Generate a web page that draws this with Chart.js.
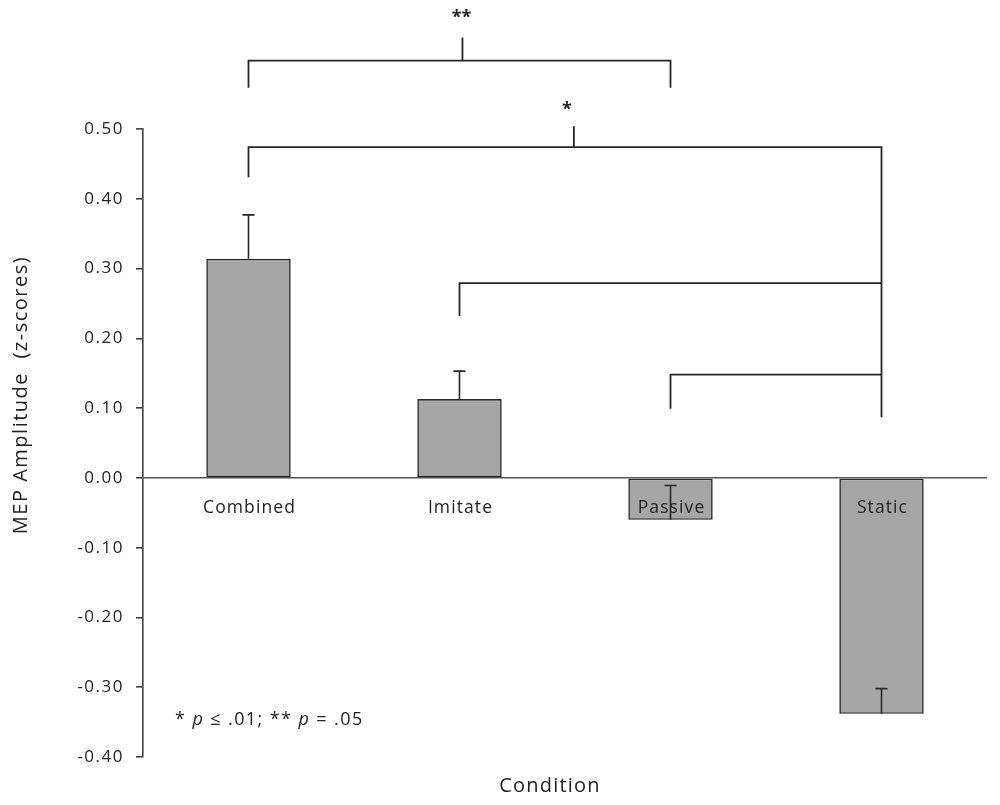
<!DOCTYPE html>
<html><head><meta charset="utf-8">
<script src="https://cdn.jsdelivr.net/npm/chart.js@4.4.0/dist/chart.umd.min.js"></script>
<style>html,body{margin:0;padding:0;background:#fff;}#wrap{width:1000px;height:805px;position:relative}</style>
</head><body><div id="wrap"><canvas id="c" width="1000" height="805"></canvas></div>
<script>
const categories = ['Combined', 'Imitate', 'Passive', 'Static'];
const meanValues = [0.314, 0.113, -0.060, -0.338];
const errorValues = [0.063, 0.040, 0.049, 0.036];
const yTickValues = [0.5, 0.4, 0.3, 0.2, 0.1, 0.0, -0.1, -0.2, -0.3, -0.4];

const bracketFrom = [0, 0, 1, 2];
const bracketTo = [2, 3, 3, 3];
const bracketLevel = [0.598, 0.474, 0.279, 0.148];
const bracketLeftEnd = [0.559, 0.431, 0.232, 0.099];
const bracketRightEnd = [0.559, 0.087, 0.279, 0.148];
const bracketTickTop = [0.631, 0.504, null, null];
const bracketTickFraction = [0.507, 0.514, null, null];
const bracketLabels = ['**', '*', '', ''];
const bracketLabelLevel = [0.663, 0.531, null, null];

const FONT = '"Open Sans", "Noto Sans", sans-serif';
const TEXT = '#222222';
const LINE = '#262626';

const overlay = {
  id: 'overlay',
  beforeDraw(chart) {
    chart.ctx.letterSpacing = '1.5px';
  },
  afterDatasetsDraw(chart) {
    const { ctx, scales: { x, y } } = chart;
    const y0 = y.getPixelForValue(0);
    ctx.save();
    // category labels under the zero line
    ctx.letterSpacing = '1.1px';
    ctx.font = '17.5px ' + FONT;
    ctx.fillStyle = TEXT;
    ctx.textAlign = 'center';
    ctx.textBaseline = 'middle';
    categories.forEach((c, i) => ctx.fillText(c, x.getPixelForValue(i) + 1, y0 + 30));
    // error bars
    ctx.strokeStyle = LINE;
    ctx.lineWidth = 1.6;
    meanValues.forEach((v, i) => {
      const cx = x.getPixelForValue(i);
      const ya = y.getPixelForValue(v);
      const yb = y.getPixelForValue(v + errorValues[i]);
      ctx.beginPath();
      ctx.moveTo(cx, ya); ctx.lineTo(cx, yb);
      ctx.moveTo(cx - 6, yb); ctx.lineTo(cx + 6, yb);
      ctx.stroke();
    });
    // significance brackets
    ctx.lineWidth = 1.8;
    bracketLevel.forEach((lv, k) => {
      const xa = x.getPixelForValue(bracketFrom[k]);
      const xb = x.getPixelForValue(bracketTo[k]);
      const yl = y.getPixelForValue(lv);
      ctx.beginPath();
      ctx.moveTo(xa, y.getPixelForValue(bracketLeftEnd[k]));
      ctx.lineTo(xa, yl);
      ctx.lineTo(xb, yl);
      ctx.lineTo(xb, y.getPixelForValue(bracketRightEnd[k]));
      if (bracketTickTop[k] !== null) {
        const xm = xa + (xb - xa) * bracketTickFraction[k];
        ctx.moveTo(xm, yl);
        ctx.lineTo(xm, y.getPixelForValue(bracketTickTop[k]));
      }
      ctx.stroke();
      if (bracketLabels[k]) {
        ctx.font = 'bold 18px ' + FONT;
        ctx.fillStyle = '#222';
        ctx.letterSpacing = '0px';
        ctx.fillText(bracketLabels[k], (xa + xb) / 2 + 2, y.getPixelForValue(bracketLabelLevel[k]) + 3);
      }
    });
    // footnote
    ctx.textAlign = 'left';
    ctx.textBaseline = 'alphabetic';
    ctx.letterSpacing = '1.4px';
    const parts = [['* ', 'normal'], ['p', 'italic'], [' \u2264 .01; ** ', 'normal'], ['p', 'italic'], [' = .05', 'normal']];
    let fx = 175;
    parts.forEach(([t, st]) => {
      ctx.font = st + ' 18px ' + FONT;
      ctx.fillStyle = TEXT;
      ctx.fillText(t, fx, 725);
      fx += ctx.measureText(t).width;
    });
    // x axis title
    ctx.font = '20px ' + FONT;
    ctx.letterSpacing = '1.2px';
    ctx.textAlign = 'center';
    ctx.textBaseline = 'middle';
    ctx.fillText('Condition', 550, 786);
    // y axis title (rotated)
    ctx.translate(21, 395);
    ctx.rotate(-Math.PI / 2);
    ctx.letterSpacing = '1.5px';
    ctx.font = '20px ' + FONT;
    ctx.fillText('MEP Amplitude  (z-scores)', 0, 0);
    ctx.restore();
  }
};

new Chart(document.getElementById('c'), {
  type: 'bar',
  data: {
    labels: categories,
    datasets: [{
      data: meanValues,
      backgroundColor: '#a6a6a6',
      borderColor: LINE,
      borderWidth: 1.6,
      borderSkipped: false,
      categoryPercentage: 1,
      barPercentage: 0.4
    }]
  },
  options: {
    responsive: false,
    devicePixelRatio: 1,
    animation: false,
    layout: { padding: { left: 0, top: 129, right: 13, bottom: 48 } },
    plugins: { legend: { display: false }, tooltip: { enabled: false } },
    scales: {
      x: { display: false },
      y: {
        min: -0.4, max: 0.5,
        afterBuildTicks: (s) => { s.ticks = yTickValues.map(v => ({ value: v })); },
        afterFit: (s) => { s.width = 143; },
        ticks: {
          padding: 12,
          color: TEXT,
          font: { family: FONT, size: 17 },
          callback: (v) => Number(v).toFixed(2)
        },
        grid: {
          drawOnChartArea: true,
          color: (c) => (c.tick && c.tick.value === 0 ? '#555555' : 'rgba(0,0,0,0)'),
          lineWidth: 1.6,
          tickLength: 7,
          tickColor: '#404040'
        },
        border: { color: '#404040', width: 1.6 },
        title: { display: false }
      }
    }
  },
  plugins: [overlay]
});
</script></body></html>
